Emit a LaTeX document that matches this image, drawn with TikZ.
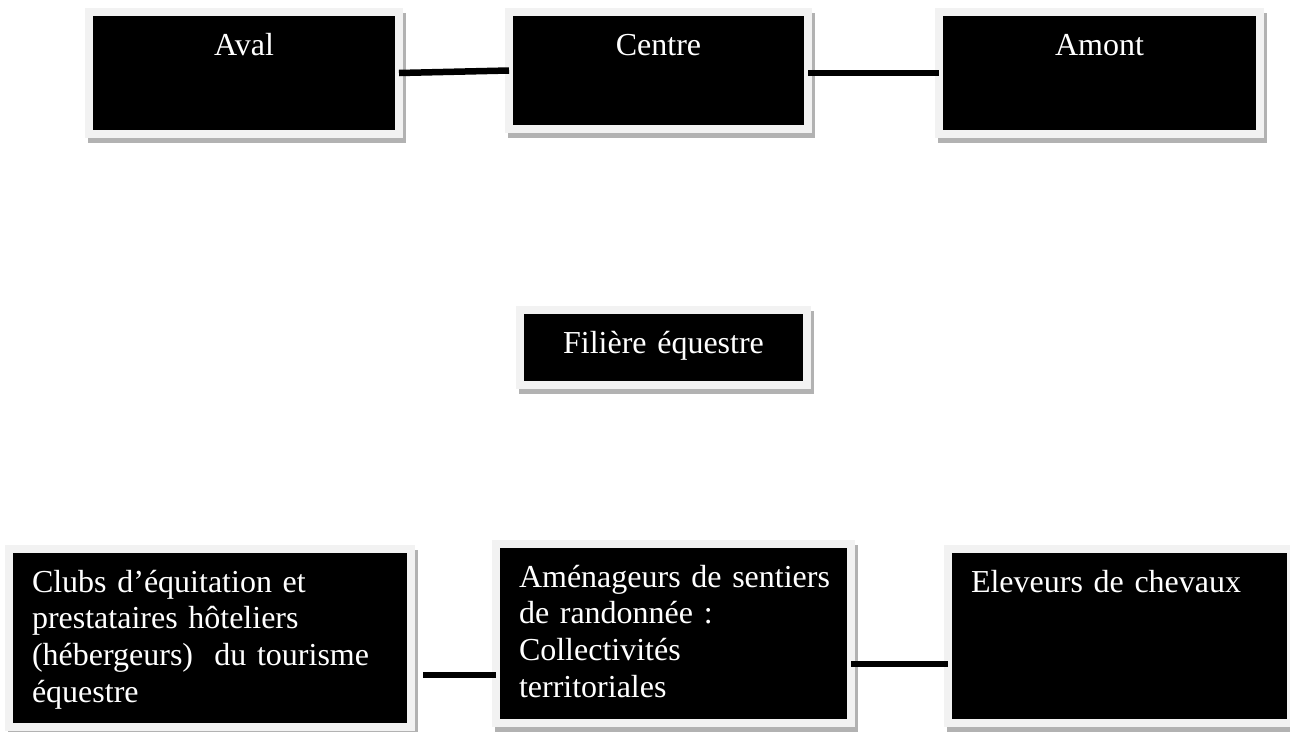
\documentclass[tikz,border=0pt]{standalone}
\usepackage{fontspec}
\setmainfont{Liberation Serif}
\hyphenpenalty=10000
\hbadness=10000
\definecolor{framegrey}{RGB}{242,242,242}
\definecolor{shadowgrey}{RGB}{178,178,178}
\tikzset{
  actor/.style={anchor=north west, fill=black, draw=framegrey, line width=8pt,
    outer sep=0pt, text=white, inner ysep=0pt, text height=43pt,
    font=\fontsize{32}{36.7}\selectfont,
    preaction={fill=shadowgrey, draw=shadowgrey, transform canvas={xshift=3pt, yshift=-5pt}}},
  titlebox/.style={actor, inner xsep=0pt, align=center},
  listbox/.style={actor, inner xsep=23pt, align=left},
  link/.style={line width=6.5pt}
}
\begin{document}
\begin{tikzpicture}[x=1pt, y=-1pt]
    \useasboundingbox (0,0) rectangle (1290,731);

    \node [titlebox, text width=310pt, text depth=79pt] (aval) at (89,12) {Aval};
    \node [titlebox, text width=299pt, text depth=74pt] (centre) at (509,12) {Centre};
    \node [titlebox, text width=321pt, text depth=79pt] (amont) at (939,12) {Amont};

    \node [titlebox, text width=287pt, text depth=32pt] (filiere) at (520,310) {Filière équestre};

    \node [listbox, text width=356pt, text depth=135pt] (clubs) at (9,549)
      {Clubs d’équitation et\\prestataires hôteliers\\(hébergeurs) \ du tourisme\\équestre};
    \node [listbox, text width=309pt, text depth=136pt] (amenageurs) at (496,544)
      {Aménageurs~de~sentiers\\de randonnée :\\Collectivités\\territoriales};
    \node [listbox, text width=297pt, text depth=131pt] (eleveurs) at (948,549)
      {Eleveurs de chevaux};

    \coordinate (lowleft) at (423,675);
    \coordinate (lowright) at (851,664);

    \draw [link] (aval.east) -- (centre.west);
    \draw [link] (amont.west -| centre.east) -- (amont.west);
    \draw [link] (lowleft) -- (amenageurs.west |- lowleft);
    \draw [link] (lowright) -- (eleveurs.west |- lowright);
  \end{tikzpicture}
\end{document}
